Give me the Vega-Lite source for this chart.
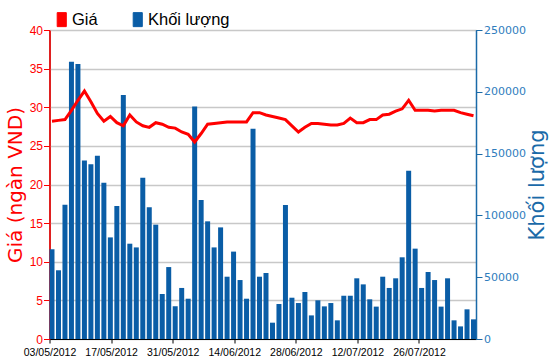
{
  "$schema": "https://vega.github.io/schema/vega-lite/v6.json",
  "width": 426.5,
  "height": 309,
  "autosize": "none",
  "padding": {"left": 49.5, "top": 30, "right": 74, "bottom": 25},
  "background": "white",
  "config": {
    "view": {"stroke": "#000000", "strokeWidth": 1},
    "axis": {"labelFont": "Liberation Sans", "titleFont": "DejaVu Sans", "gridColor": "#c8c8c8", "gridWidth": 1.5}
  },
  "data": {"values": [
    {"d": "2012-05-03", "gia": 28.2, "kl": 72600},
    {"d": "2012-05-04", "gia": 28.3, "kl": 55600},
    {"d": "2012-05-07", "gia": 28.4, "kl": 108700},
    {"d": "2012-05-08", "gia": 29.6, "kl": 224300},
    {"d": "2012-05-09", "gia": 30.9, "kl": 222500},
    {"d": "2012-05-10", "gia": 32.1, "kl": 144500},
    {"d": "2012-05-11", "gia": 30.7, "kl": 141300},
    {"d": "2012-05-14", "gia": 29.2, "kl": 148300},
    {"d": "2012-05-15", "gia": 28.2, "kl": 126500},
    {"d": "2012-05-16", "gia": 28.8, "kl": 82200},
    {"d": "2012-05-17", "gia": 28.0, "kl": 107600},
    {"d": "2012-05-18", "gia": 27.6, "kl": 197400},
    {"d": "2012-05-21", "gia": 29.0, "kl": 77100},
    {"d": "2012-05-22", "gia": 28.1, "kl": 74100},
    {"d": "2012-05-23", "gia": 27.6, "kl": 130500},
    {"d": "2012-05-24", "gia": 27.4, "kl": 106500},
    {"d": "2012-05-25", "gia": 28.0, "kl": 92500},
    {"d": "2012-05-28", "gia": 27.8, "kl": 36400},
    {"d": "2012-05-29", "gia": 27.4, "kl": 58200},
    {"d": "2012-05-30", "gia": 27.3, "kl": 26400},
    {"d": "2012-05-31", "gia": 26.8, "kl": 41300},
    {"d": "2012-06-01", "gia": 26.5, "kl": 32600},
    {"d": "2012-06-04", "gia": 25.5, "kl": 188200},
    {"d": "2012-06-05", "gia": 26.6, "kl": 112400},
    {"d": "2012-06-06", "gia": 27.8, "kl": 95200},
    {"d": "2012-06-07", "gia": 27.9, "kl": 74100},
    {"d": "2012-06-08", "gia": 28.0, "kl": 90300},
    {"d": "2012-06-11", "gia": 28.1, "kl": 50400},
    {"d": "2012-06-12", "gia": 28.1, "kl": 70700},
    {"d": "2012-06-13", "gia": 28.1, "kl": 47700},
    {"d": "2012-06-14", "gia": 28.1, "kl": 32600},
    {"d": "2012-06-15", "gia": 29.3, "kl": 170200},
    {"d": "2012-06-18", "gia": 29.3, "kl": 50400},
    {"d": "2012-06-19", "gia": 29.0, "kl": 53400},
    {"d": "2012-06-20", "gia": 28.8, "kl": 13200},
    {"d": "2012-06-21", "gia": 28.6, "kl": 28300},
    {"d": "2012-06-22", "gia": 28.4, "kl": 108400},
    {"d": "2012-06-25", "gia": 27.6, "kl": 33400},
    {"d": "2012-06-26", "gia": 26.8, "kl": 29100},
    {"d": "2012-06-27", "gia": 27.4, "kl": 38000},
    {"d": "2012-06-28", "gia": 27.9, "kl": 19100},
    {"d": "2012-06-29", "gia": 27.9, "kl": 31300},
    {"d": "2012-07-02", "gia": 27.8, "kl": 26400},
    {"d": "2012-07-03", "gia": 27.7, "kl": 29100},
    {"d": "2012-07-04", "gia": 27.7, "kl": 15100},
    {"d": "2012-07-05", "gia": 27.9, "kl": 35000},
    {"d": "2012-07-06", "gia": 28.6, "kl": 35000},
    {"d": "2012-07-09", "gia": 28.0, "kl": 49100},
    {"d": "2012-07-10", "gia": 28.0, "kl": 44200},
    {"d": "2012-07-11", "gia": 28.4, "kl": 32100},
    {"d": "2012-07-12", "gia": 28.4, "kl": 26200},
    {"d": "2012-07-13", "gia": 29.0, "kl": 50400},
    {"d": "2012-07-16", "gia": 29.1, "kl": 41300},
    {"d": "2012-07-17", "gia": 29.5, "kl": 49100},
    {"d": "2012-07-18", "gia": 29.8, "kl": 66100},
    {"d": "2012-07-19", "gia": 30.9, "kl": 136200},
    {"d": "2012-07-20", "gia": 29.6, "kl": 73100},
    {"d": "2012-07-23", "gia": 29.6, "kl": 41300},
    {"d": "2012-07-24", "gia": 29.6, "kl": 54200},
    {"d": "2012-07-25", "gia": 29.5, "kl": 47700},
    {"d": "2012-07-26", "gia": 29.6, "kl": 26200},
    {"d": "2012-07-27", "gia": 29.6, "kl": 49100},
    {"d": "2012-07-30", "gia": 29.6, "kl": 15100},
    {"d": "2012-07-31", "gia": 29.3, "kl": 10200},
    {"d": "2012-08-01", "gia": 29.1, "kl": 24000},
    {"d": "2012-08-02", "gia": 28.9, "kl": 15900}
  ]},
  "layer": [
    {
      "layer": [
        {
          "mark": {"type": "bar", "cornerRadius": 0},
          "encoding": {
            "x": {"field": "d", "type": "ordinal", "axis": null, "scale": {"paddingInner": 0.23, "paddingOuter": 0}},
            "y": {"field": "kl", "type": "quantitative", "scale": {"domain": [0, 250000], "nice": false},
              "axis": {"orient": "right", "values": [0, 50000, 100000, 150000, 200000, 250000], "format": "d", "grid": false,
                "labelFont": "DejaVu Sans", "labelFontSize": 11, "labelColor": "#2f7dbd", "labelPadding": 1.5,
                "tickColor": "#1a6aa8", "tickSize": 6, "domainColor": "#1a6aa8", "domainWidth": 1.5,
                "title": "Khối lượng", "titleAngle": 270, "titleBaseline": "top", "titleColor": "#1a6aa8", "titleFontSize": 21, "titleFontWeight": "normal", "titlePadding": 1}},
            "color": {"datum": "Khối lượng", "type": "nominal",
              "scale": {"domain": ["Giá", "Khối lượng"], "range": ["#ff0000", "#0a5da6"]},
              "legend": {"orient": "none", "legendX": 4, "legendY": -19, "direction": "horizontal", "title": null,
                "symbolType": "M-0.65,-1H0.65V1H-0.65Z", "symbolSize": 196, "labelFont": "Liberation Sans",
                "labelFontSize": 16.5, "labelColor": "#000000", "labelOffset": 2, "columnPadding": 31, "padding": 0,
                "encode": {"symbols": {"update": {"stroke": {"value": "#222222"}, "strokeWidth": {"value": 1}, "opacity": {"value": 1}}}}}}
          }
        },
        {
          "mark": {"type": "line", "strokeWidth": 3},
          "encoding": {
            "x": {"field": "d", "type": "ordinal", "axis": null, "bandPosition": 0.5},
            "y": {"field": "gia", "type": "quantitative", "scale": {"domain": [0, 40], "nice": false},
              "axis": {"orient": "left", "values": [0, 5, 10, 15, 20, 25, 30, 35, 40], "grid": true,
                "labelFontSize": 12, "labelColor": "#ff0000", "labelPadding": 1,
                "tickColor": "#ff0000", "tickSize": 6, "domainColor": "#ff0000", "domainWidth": 1.5,
                "title": "Giá (ngàn VND)", "titleColor": "#ff0000", "titleFontSize": 20, "titleFontWeight": "normal", "titlePadding": 4}},
            "color": {"datum": "Giá", "type": "nominal"}
          }
        }
      ],
      "resolve": {"scale": {"y": "independent"}}
    },
    {
      "data": {"values": [
        {"t": "2012-05-03"}, {"t": "2012-05-17"}, {"t": "2012-05-31"}, {"t": "2012-06-14"},
        {"t": "2012-06-28"}, {"t": "2012-07-12"}, {"t": "2012-07-26"}
      ]},
      "mark": {"type": "point", "opacity": 0},
      "encoding": {
        "x": {"field": "t", "type": "temporal",
          "scale": {"type": "utc", "domain": [{"year": 2012, "month": 5, "date": 3, "utc": true}, {"year": 2012, "month": 8, "date": 7, "hours": 23, "utc": true}]},
          "axis": {"orient": "bottom", "format": "%d/%m/%Y", "grid": false,
            "values": [
              {"year": 2012, "month": 5, "date": 3, "utc": true}, {"year": 2012, "month": 5, "date": 17, "utc": true},
              {"year": 2012, "month": 5, "date": 31, "utc": true}, {"year": 2012, "month": 6, "date": 14, "utc": true},
              {"year": 2012, "month": 6, "date": 28, "utc": true}, {"year": 2012, "month": 7, "date": 12, "utc": true},
              {"year": 2012, "month": 7, "date": 26, "utc": true}],
            "labelFontSize": 10.5, "labelColor": "#000000", "labelPadding": 4, "labelOverlap": false, "labelFlush": false,
            "tickColor": "#000000", "tickSize": 4, "domainColor": "#000000", "domainWidth": 1, "title": null}}
      }
    }
  ],
  "resolve": {"scale": {"x": "independent", "y": "independent"}}
}
